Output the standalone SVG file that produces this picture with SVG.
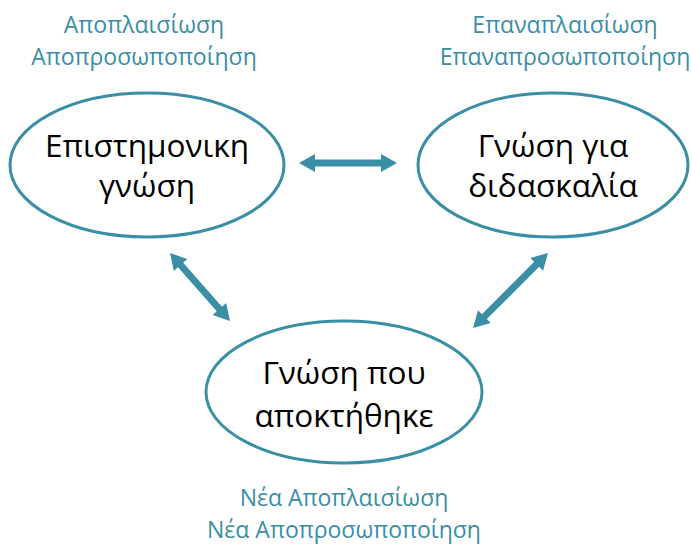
<svg xmlns="http://www.w3.org/2000/svg" width="692" height="546" viewBox="0 0 692 546">
<defs>
<style>
.node{fill:#ffffff;stroke:#3a8ea5;stroke-width:3}
.nt{font-family:"Open Sans","Noto Sans",sans-serif;font-size:31.5px;fill:#000000;text-anchor:middle}
.lb{font-family:"Open Sans","Noto Sans",sans-serif;font-size:23px;fill:#3a8ea5;text-anchor:middle}
.conn{fill:#3a8ea5;stroke:none}
</style>
</defs>
<rect width="692" height="546" fill="#ffffff"/>
<g id="labels">
<text class="lb" x="144" y="33">Αποπλαισίωση</text>
<text class="lb" x="144" y="65">Αποπροσωποποίηση</text>
<text class="lb" x="565" y="33">Επαναπλαισίωση</text>
<text class="lb" x="565" y="65">Επαναπροσωποποίηση</text>
<text class="lb" x="344" y="506">Νέα Αποπλαισίωση</text>
<text class="lb" x="344" y="538">Νέα Αποπροσωποποίηση</text>
</g>
<g id="node-scientific">
<ellipse class="node" cx="147" cy="165" rx="137" ry="72"/>
<text class="nt" x="147" y="157">Επιστημονικη</text>
<text class="nt" x="147" y="197">γνώση</text>
</g>
<g id="node-teaching">
<ellipse class="node" cx="553" cy="165" rx="135" ry="72"/>
<text class="nt" x="553" y="157">Γνώση για</text>
<text class="nt" x="553" y="197">διδασκαλία</text>
</g>
<g id="node-acquired">
<ellipse class="node" cx="344" cy="392" rx="138" ry="71"/>
<text class="nt" x="344" y="384">Γνώση που</text>
<text class="nt" x="344" y="427">αποκτήθηκε</text>
</g>
<g id="connectors">
<polygon class="conn" transform="translate(299,163)" points="0,0 16,-9 16,-3.5 82,-3.5 82,-9 98,0 82,9 82,3.5 16,3.5 16,9"/>
<polygon class="conn" transform="translate(170,253) rotate(48.6)" points="0,0 16,-9 16,-3.5 74.7,-3.5 74.7,-9 90.7,0 74.7,9 74.7,3.5 16,3.5 16,9"/>
<polygon class="conn" transform="translate(548,253) rotate(135)" points="0,0 16,-9 16,-3.5 90,-3.5 90,-9 106,0 90,9 90,3.5 16,3.5 16,9"/>
</g>
</svg>
